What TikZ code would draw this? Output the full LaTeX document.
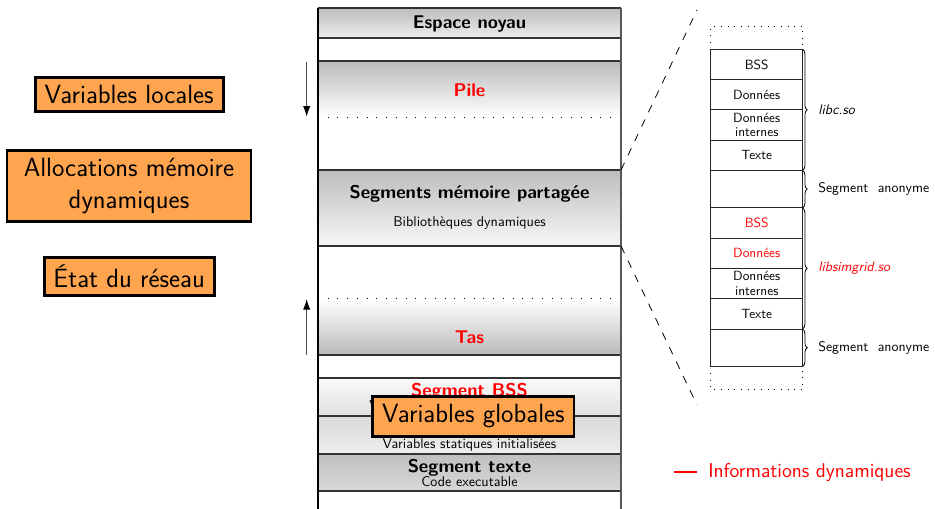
\documentclass[tikz,border=0pt]{standalone}
\usepackage{fontspec}
\usetikzlibrary{positioning,arrows.meta,decorations.pathreplacing}
\renewcommand{\familydefault}{\sfdefault}

\definecolor{orangeboite}{RGB}{255,165,79}

\tikzset{
  titre/.style={inner sep=0pt, anchor=base, font=\fontsize{13.8}{16}\selectfont\bfseries},
  soustitre/.style={inner sep=0pt, anchor=base, font=\fontsize{10.6}{12}\selectfont},
  trait/.style={draw=black!80, line width=0.8pt},
  pointilles/.style={line width=0.7pt, dash pattern=on 0.7pt off 6.6pt},
  pointsfins/.style={line width=0.6pt, dash pattern=on 0.6pt off 4.4pt},
  tirets/.style={line width=0.6pt, dash pattern=on 6pt off 6pt},
  fleche/.style={-{Latex[length=8pt,width=5.5pt,color=black]}, black!70, line width=0.8pt},
  cellule/.style={draw=black!85, line width=0.6pt, minimum width=68.8pt, minimum height=22.7pt,
    inner sep=0pt, outer sep=0pt, align=center, font=\fontsize{10}{10.8}\selectfont},
  vide/.style={cellule, minimum height=28.1pt},
  accolade/.style={decorate, decoration={brace, amplitude=3.5pt}, line width=0.6pt},
  nomlib/.style={right=11.5pt, inner sep=0pt, font=\fontsize{10.4}{12}\selectfont},
  etiquette/.style={draw=black, line width=2.2pt, fill=orangeboite, align=center,
    inner xsep=7pt, inner ysep=5.8pt, font=\fontsize{19.8}{24}\selectfont},
}

\begin{document}
\begin{tikzpicture}[x=7.5pt,y=-7.5pt]
  \useasboundingbox (0,0) rectangle (93.5,50.9);

  % espace d'adressage
  \shade[top color=black!26, bottom color=black!7] (31.8,0.8) rectangle (62.1,3.8);
  \shade[top color=black!27, bottom color=white] (31.8,6.1) rectangle (62.1,11.7);
  \shade[top color=black!26, bottom color=black!3] (31.8,17.0) rectangle (62.1,24.6);
  \shade[top color=white, bottom color=black!27] (31.8,29.8) rectangle (62.1,35.5);
  \shade[top color=black!2, bottom color=black!12] (31.8,37.8) rectangle (62.1,41.6);
  \shade[top color=black!15, bottom color=black!6] (31.8,41.6) rectangle (62.1,45.4);
  \shade[top color=black!25, bottom color=black!15] (31.8,45.4) rectangle (62.1,49.1);
  \foreach \y in {0.8,3.8,6.1,17.0,24.6,35.5,37.8,41.6,45.4,49.1}
    \draw[trait] (31.8,\y) -- (62.1,\y);
  \draw[pointilles] (31.8,11.7) -- (62.1,11.7);
  \draw[pointilles] (31.8,29.8) -- (62.1,29.8);
  \draw[line width=0.8pt] (31.8,0.8) -- (31.8,50.9);
  \draw[line width=1pt, black!65] (62.1,0.8) -- (62.1,50.9);

  \node[titre] (noyau) at (46.95,2.83) {Espace noyau};
  \node[titre, red] (pile) at (46.95,9.67) {Pile};
  \node[titre] (partagee) at (46.95,19.83) {Segments mémoire partagée};
  \node[soustitre] (biblio) at (46.95,22.67) {Bibliothèques dynamiques};
  \node[titre, red] (tas) at (46.95,34.4) {Tas};
  \node[titre, red] (bss) at (46.95,39.67) {Segment BSS};
  \node[soustitre] (noninit) at (46.95,41.1) {Variables statiques non initialisées};
  \node[titre, red] (donnees) at (46.95,43.4) {Segment données};
  \node[soustitre] (init) at (46.95,44.83) {Variables statiques initialisées};
  \node[titre] (texte) at (46.95,47.23) {Segment texte};
  \node[soustitre] (code) at (46.95,48.67) {Code executable};

  % sens de croissance
  \coordinate (pilehaut) at (30.67,6.17);
  \coordinate (pilebas) at (30.67,11.67);
  \coordinate (tasbas) at (30.67,35.5);
  \coordinate (tashaut) at (30.67,29.9);
  \draw[fleche] (pilehaut) -- (pilebas);
  \draw[fleche] (tasbas) -- (tashaut);

  % zoom sur les segments partages
  \coordinate (parthaut) at (62.1,17.0);
  \coordinate (partbas) at (62.1,24.6);
  \coordinate (zoomhaut) at (69.7,1.0);
  \coordinate (zoombas) at (69.7,40.5);
  \draw[tirets] (parthaut) -- (zoomhaut);
  \draw[tirets] (partbas) -- (zoombas);

  \node[cellule] (bssc) at (75.67,6.45) {BSS};
  \node[cellule, below=0pt of bssc] (donc) {Données};
  \node[cellule, below=0pt of donc] (intc) {Données\\internes};
  \node[cellule, below=0pt of intc] (textec) {Texte};
  \node[vide, below=0pt of textec] (anon1) {};
  \node[cellule, below=0pt of anon1, text=red] (bsss) {BSS};
  \node[cellule, below=0pt of bsss, text=red] (dons) {Données};
  \node[cellule, below=0pt of dons] (ints) {Données\\internes};
  \node[cellule, below=0pt of ints] (textes) {Texte};
  \node[vide, below=0pt of textes] (anon2) {};
  \draw[pointsfins] (bssc.north west) -- ++(0,-2.33) -| (bssc.north east);
  \draw[pointsfins] (anon2.south west) -- ++(0,2.33) -| (anon2.south east);

  \draw[accolade] (bssc.north east) -- node[nomlib, font=\fontsize{10.4}{12}\selectfont\itshape] {libc.so} (textec.south east);
  \draw[accolade] (anon1.north east) -- node[nomlib] {Segment\hspace{7pt}anonyme} (anon1.south east);
  \draw[accolade] (bsss.north east) -- node[nomlib, text=red, font=\fontsize{10.4}{12}\selectfont\itshape] {libsimgrid.so} (textes.south east);
  \draw[accolade] (anon2.north east) -- node[nomlib] {Segment\hspace{7pt}anonyme} (anon2.south east);

  % legende
  \coordinate (legA) at (67.4,47.2);
  \coordinate (legB) at (69.7,47.2);
  \draw[red, line width=1.3pt] (legA) -- (legB);
  \node[anchor=base west, inner sep=0pt, text=red, font=\fontsize{15}{17}\selectfont] (legende) at (70.8,47.73) {Informations dynamiques};

  % donnees de simulation
  \node[etiquette] (locales) at (12.92,9.47) {Variables locales};
  \node[etiquette, minimum width=183pt] (allocs) at (12.9,18.58) {Allocations mémoire\\dynamiques};
  \node[etiquette] (reseau) at (12.92,27.67) {État du réseau};
  \node[etiquette] (globales) at (47.34,41.65) {Variables globales};
\end{tikzpicture}
\end{document}
